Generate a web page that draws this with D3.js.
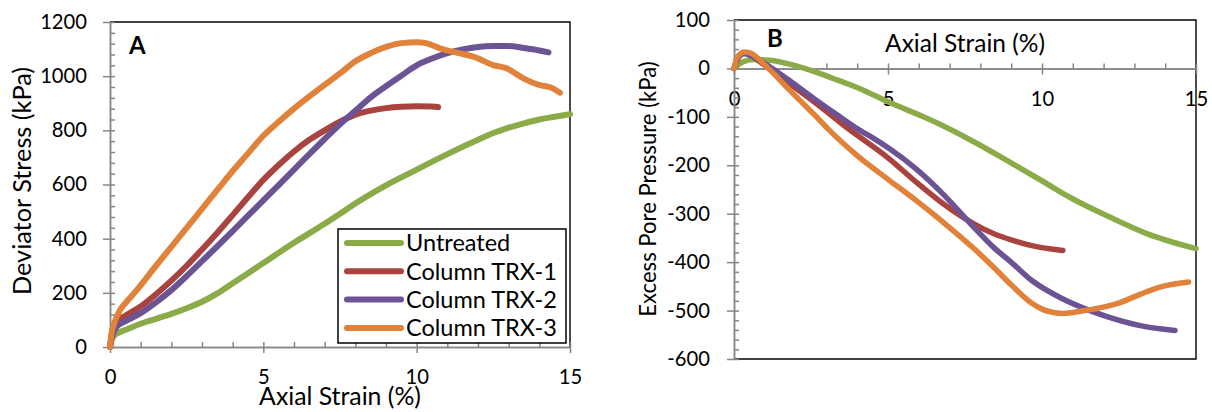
<!DOCTYPE html>
<html>
<head>
<meta charset="utf-8">
<script src="https://cdn.jsdelivr.net/npm/d3@7"></script>
<style>
  html, body { margin: 0; padding: 0; background: #fff; }
  svg { display: block; }
  text { font-family: Lato, "Open Sans", sans-serif; fill: #000; }
  .axis .domain, .axis .tick line { stroke: #868686; stroke-width: 1.5; }
  .axis text { font-family: Lato, "Open Sans", sans-serif; font-size: 20.2px; fill: #000; }
</style>
</head>
<body>
<svg id="chart" width="1212" height="412"></svg>
<script>
// Series shown in both panels
const seriesNames = ["Untreated", "Column TRX-1", "Column TRX-2", "Column TRX-3"];
const seriesColors = ["#8aab47", "#a8433f", "#6c5394", "#e1823a"];

// Panel A: axial strain (%) vs deviator stress (kPa)
const stressUntreated = [[0,0],[0.05,25],[0.12,40],[0.27,52],[0.54,65],[1,86],[1.5,104],[2,122],[2.5,143],[3,167],[3.5,198],[4,235],[4.5,272],[5,310],[6,385],[7,455],[7.5,492],[8,530],[9,597],[10,655],[11,712],[12,765],[12.5,790],[13,810],[13.5,826],[14,840],[14.5,850],[15,860]];
const stressTRX1 = [[0,0],[0.05,40],[0.12,75],[0.22,93],[0.5,115],[1,150],[1.5,195],[2,245],[2.5,300],[3,360],[3.5,422],[4,487],[4.5,553],[5,617],[5.5,672],[6,722],[6.5,765],[7,800],[7.5,832],[8,858],[8.5,873],[9,882],[9.5,887],[10,889],[10.5,888],[10.7,886]];
const stressTRX2 = [[0,0],[0.05,30],[0.12,55],[0.22,75],[0.5,95],[1,125],[1.5,165],[2,210],[2.5,262],[3,317],[3.5,372],[4,428],[4.5,485],[5,541],[5.5,598],[6,655],[6.5,712],[7,768],[7.5,822],[8,872],[8.5,922],[9,963],[9.5,1002],[10,1040],[10.5,1065],[11,1085],[11.5,1099],[12,1108],[12.5,1111],[13,1111],[13.5,1104],[14,1095],[14.3,1088]];
const stressTRX3 = [[0,0],[0.05,50],[0.1,75],[0.16,95],[0.33,137],[0.54,167],[0.87,210],[1.5,300],[2,370],[2.5,440],[3,510],[3.5,580],[4,650],[4.5,715],[5,780],[5.5,832],[6,880],[6.5,925],[7,968],[7.5,1010],[8,1055],[8.5,1085],[9,1108],[9.5,1122],[10,1125],[10.3,1122],[10.76,1103],[11.41,1084],[11.85,1072],[12.5,1041],[12.93,1029],[13.48,992],[14.02,967],[14.35,959],[14.67,939]];

// Panel B: axial strain (%) vs excess pore pressure (kPa)
const poreUntreated = [[0,0],[0.15,8],[0.3,13.7],[0.63,18.6],[1.16,17],[1.93,6.8],[2.47,-3.5],[3.22,-20.7],[4.09,-42],[5,-69],[6.15,-100],[6.8,-119],[7.8,-152],[9.05,-197],[10.05,-234],[10.9,-266],[12.2,-307],[13.4,-341],[15,-372]];
const poreTRX1 = [[0,0],[0.05,10],[0.2,27],[0.35,32],[0.84,14],[1.4,-13],[2.14,-47],[2.79,-78],[3.66,-122],[5.03,-186],[5.9,-234],[6.78,-279],[7.79,-321],[8.42,-341],[9.05,-355],[9.67,-366],[10.68,-376]];
const poreTRX2 = [[0,0],[0.05,10],[0.14,24],[0.3,31],[0.63,24],[1.17,3],[1.93,-31],[2.68,-66],[3.44,-100],[4.09,-128],[4.52,-144],[5.03,-165],[5.9,-207],[6.78,-259],[7.79,-328],[8.42,-369],[9.05,-403],[9.67,-438],[10.68,-476],[11.56,-500],[12.19,-514],[13.19,-531],[14.32,-541]];
const poreTRX3 = [[0,0],[0.05,12],[0.09,20.7],[0.25,32],[0.35,34],[0.57,31],[0.84,17],[1.28,-10],[1.7,-38],[2.14,-66],[2.68,-100],[3.1,-128],[4,-180],[5,-229],[5.9,-272],[6.78,-317],[7.79,-372],[8.42,-410],[9.05,-450],[9.67,-485],[10,-497],[10.3,-503],[10.68,-506],[11.3,-501],[12.06,-492],[12.56,-483],[13.2,-466],[13.8,-452],[14.76,-441]];

// Tick labels
const strainTicks = [0, 5, 10, 15];
const stressTicks = [0, 200, 400, 600, 800, 1000, 1200];
const poreTicks = [100, 0, -100, -200, -300, -400, -500, -600];

const svg = d3.select("#chart");
const plain = d => String(d);

function addAxes(x, y, xAxisY, opts) {
  // x axis: minor ticks pointing inward, major ticks outward with labels
  svg.append("g").attr("class", "axis")
    .attr("transform", `translate(0,${xAxisY})`)
    .call(d3.axisTop(x).tickValues(d3.range(0, 16, 1)).tickSize(5).tickSizeOuter(0).tickFormat(""));
  svg.append("g").attr("class", "axis")
    .attr("transform", `translate(0,${xAxisY})`)
    .call(d3.axisBottom(x).tickValues(strainTicks).tickSize(6).tickSizeOuter(0).tickPadding(17).tickFormat(plain));
  // y axis: minor ticks inward, major ticks outward with labels
  const x0 = x.range()[0];
  svg.append("g").attr("class", "axis")
    .attr("transform", `translate(${x0},0)`)
    .call(d3.axisRight(y).tickValues(d3.range(opts.yMin, opts.yMax + 1, opts.yMinor)).tickSize(5).tickSizeOuter(0).tickFormat(""));
  svg.append("g").attr("class", "axis")
    .attr("transform", `translate(${x0},0)`)
    .call(d3.axisLeft(y).tickValues(opts.yTicks).tickSize(7).tickSizeOuter(0).tickPadding(opts.yPad).tickFormat(plain));
}

function addLines(x, y, seriesList, width) {
  const line = d3.line().x(d => x(d[0])).y(d => y(d[1])).curve(d3.curveMonotoneX);
  seriesList.forEach((s, i) => {
    svg.append("path")
      .attr("d", line(s))
      .attr("fill", "none")
      .attr("stroke", seriesColors[i])
      .attr("stroke-width", width)
      .attr("stroke-linecap", "round")
      .attr("stroke-linejoin", "round");
  });
}

// ---------- Panel A ----------
const xA = d3.scaleLinear().domain([0, 15]).range([110, 570]);
const yA = d3.scaleLinear().domain([0, 1200]).range([347, 22]);

svg.append("path")
  .attr("d", `M${xA(0)},${yA(1200)}H${xA(15)}V${yA(0)}`)
  .attr("fill", "none").attr("stroke", "#000").attr("stroke-width", 1.4);

addAxes(xA, yA, yA(0), { yMin: 0, yMax: 1200, yMinor: 40, yTicks: stressTicks, yPad: 16 });
addLines(xA, yA, [stressUntreated, stressTRX1, stressTRX2, stressTRX3], 6);

svg.append("text").attr("x", 129).attr("y", 54)
  .style("font-weight", "bold").style("font-size", "24px").text("A");

svg.append("text").attr("x", (xA(0) + xA(15)) / 2).attr("y", 405)
  .attr("text-anchor", "middle").style("font-size", "24.8px").text("Axial Strain (%)");
svg.append("text").attr("transform", `translate(31,181) rotate(-90)`)
  .attr("text-anchor", "middle").style("font-size", "25.3px").text("Deviator Stress (kPa)");

// Legend
const legend = svg.append("g");
legend.append("rect").attr("x", 338).attr("y", 229).attr("width", 228).attr("height", 114)
  .attr("fill", "#fff").attr("stroke", "#000").attr("stroke-width", 1.5);
seriesNames.forEach((name, i) => {
  const cy = 243 + i * 28.3;
  legend.append("line").attr("x1", 347).attr("x2", 401).attr("y1", cy).attr("y2", cy)
    .attr("stroke", seriesColors[i]).attr("stroke-width", 6).attr("stroke-linecap", "round");
  legend.append("text").attr("x", 406).attr("y", cy).attr("dy", "0.36em")
    .style("font-size", "23.5px").text(name);
});

// ---------- Panel B ----------
const xB = d3.scaleLinear().domain([0, 15]).range([734, 1196]);
const yB = d3.scaleLinear().domain([-600, 100]).range([359, 20]);

svg.append("path")
  .attr("d", `M${xB(0)},${yB(100)}H${xB(15)}V${yB(-600)}H${xB(0)}`)
  .attr("fill", "none").attr("stroke", "#000").attr("stroke-width", 1.4);

addAxes(xB, yB, yB(0), { yMin: -600, yMax: 100, yMinor: 20, yTicks: poreTicks, yPad: 17 });
addLines(xB, yB, [poreUntreated, poreTRX1, poreTRX2, poreTRX3], 5.5);

svg.append("text").attr("x", 767).attr("y", 47)
  .style("font-weight", "bold").style("font-size", "24px").text("B");

svg.append("text").attr("x", (xB(0) + xB(15)) / 2).attr("y", 52)
  .attr("text-anchor", "middle").style("font-size", "24.5px").text("Axial Strain (%)");
svg.append("text").attr("transform", `translate(656,189) rotate(-90)`)
  .attr("text-anchor", "middle").style("font-size", "22.1px").text("Excess Pore Pressure (kPa)");
</script>
</body>
</html>
